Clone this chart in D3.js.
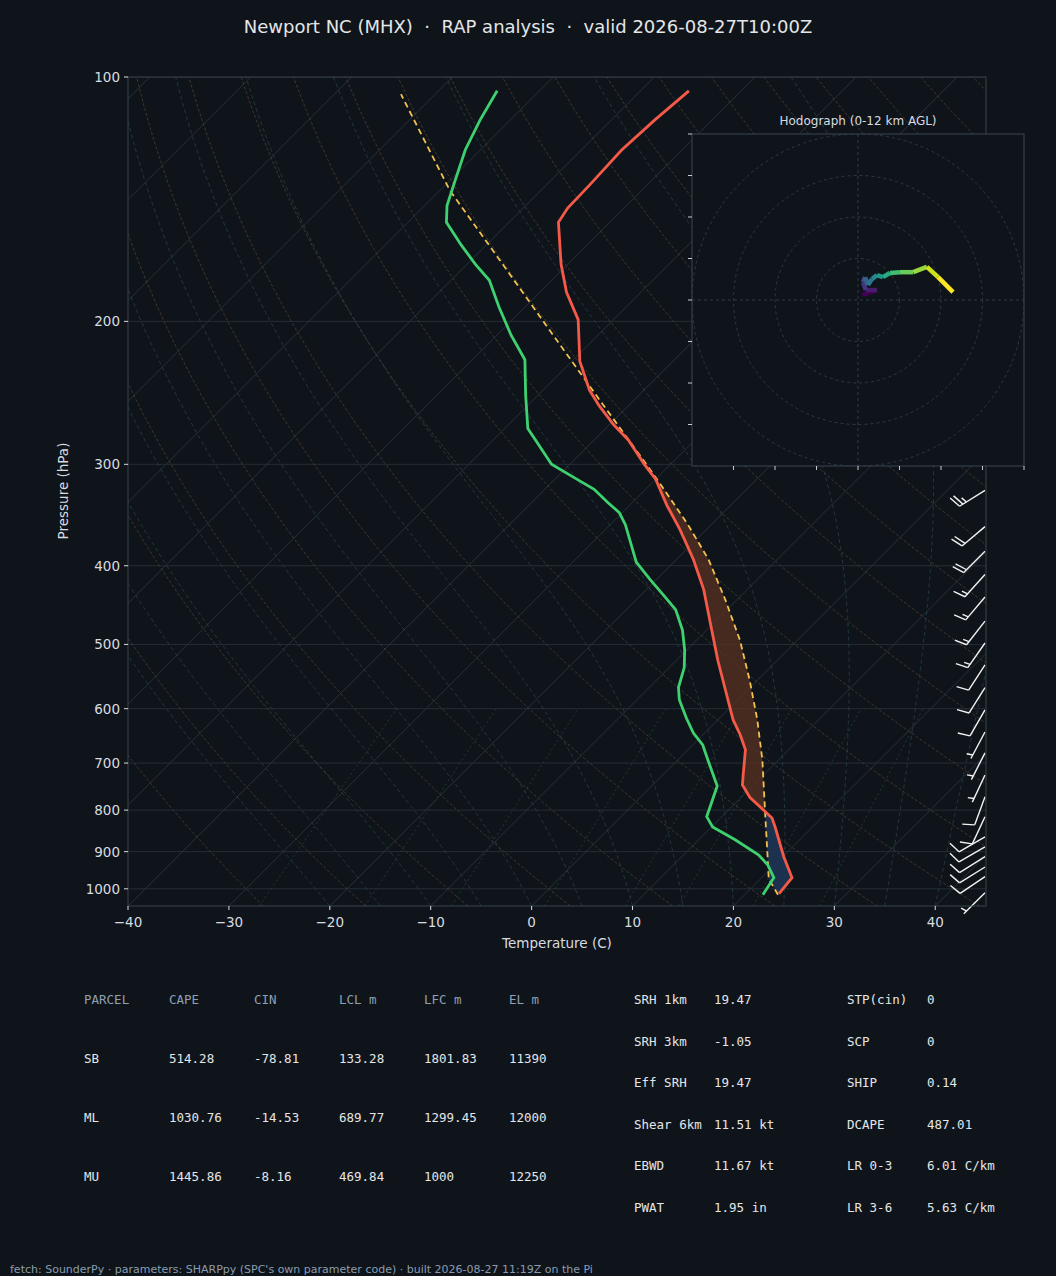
<!DOCTYPE html>
<html><head><meta charset="utf-8">
<script src="https://cdn.jsdelivr.net/npm/d3@7"></script>
<style>
  body { margin: 0; background: #0f141a; }
  text { font-family: "DejaVu Sans", sans-serif; }
  text.mono { font-family: "DejaVu Sans Mono", monospace; }
</style></head>
<body><div id="chart"></div>
<script>
  // sounding (hPa, degC)
  const tempP = [1014, 969, 913, 841, 818, 799, 772, 745, 720, 674, 646, 619, 569, 523, 480, 428, 393, 361, 337, 313, 300, 280, 268, 254, 243, 224, 199, 184, 170, 151, 145, 136, 123, 113, 104]
  const tempC = [23.3, 23.0, 20.1, 16.4, 15.1, 13.4, 10.9, 8.9, 7.8, 5.7, 3.7, 1.5, -2.2, -5.9, -9.5, -14.3, -18.3, -22.6, -26.3, -30.0, -32.6, -36.6, -39.6, -42.9, -45.4, -49.2, -53.5, -57.4, -60.7, -65.1, -65.6, -65.7, -66.0, -65.7, -65.2]
  const dewP = [1017, 969, 934, 908, 870, 839, 815, 747, 694, 665, 643, 616, 585, 565, 534, 508, 480, 453, 435, 416, 396, 356, 344, 334, 322, 312, 300, 280, 271, 246, 223, 208, 192, 178, 170, 161, 151, 144, 134, 123, 113, 104]
  const dewC = [21.8, 21.2, 19.3, 17.4, 13.6, 10.1, 8.5, 6.5, 3.0, 1.0, -1.1, -3.3, -5.8, -7.1, -8.5, -10.2, -12.4, -15.1, -17.7, -20.6, -23.7, -28.5, -30.3, -32.5, -35.1, -38.1, -41.8, -45.8, -47.7, -51.3, -54.8, -58.6, -62.6, -66.2, -69.2, -72.5, -76.2, -77.8, -79.5, -81.5, -83.0, -84.2]
  const parcelP = [1017, 972, 913, 806, 694, 619, 553, 494, 441, 393, 356, 323, 298, 250, 205, 168, 138, 105]
  const parcelC = [23.3, 20.8, 18.5, 13.9, 8.4, 3.9, -0.8, -5.7, -11.1, -16.8, -22.3, -28.0, -32.8, -43.4, -55.3, -67.2, -79.0, -93.4]

  // wind barbs (hPa, direction from, kt)
  const barbP = [323, 358, 384, 410, 437, 468, 498, 530, 565, 602, 641, 680, 724, 770, 815, 863, 888, 913, 940, 966, 1011]
  const barbDir = [238, 230, 225, 222, 220, 218, 215, 213, 212, 210, 208, 207, 205, 200, 205, 240, 240, 238, 238, 236, 225]
  const barbSpd = [25, 20, 20, 15, 15, 15, 15, 10, 10, 10, 5, 5, 5, 10, 10, 10, 10, 10, 10, 10, 5]

  // hodograph (kt)
  const hodoU = [1.0, 4.6, 1.9, 1.2, 1.7, 2.4, 3.4, 4.6, 6.0, 7.7, 10.1, 13.3, 16.6, 19.3, 22.9]
  const hodoV = [1.2, 2.4, 2.4, 4.3, 5.5, 3.6, 5.1, 6.0, 5.5, 6.5, 6.7, 6.7, 8.0, 5.5, 1.9]

  const pTicks = [100, 200, 300, 400, 500, 600, 700, 800, 900, 1000]
  const tTicks = [-40, -30, -20, -10, 0, 10, 20, 30, 40]

  const tableHead = ["PARCEL", "CAPE", "CIN", "LCL m", "LFC m", "EL m"]
  const tableRows = [
    ["SB", "514.28", "-78.81", "133.28", "1801.83", "11390"],
    ["ML", "1030.76", "-14.53", "689.77", "1299.45", "12000"],
    ["MU", "1445.86", "-8.16", "469.84", "1000", "12250"]]
  const paramsA = [["SRH 1km", "19.47"], ["SRH 3km", "-1.05"], ["Eff SRH", "19.47"], ["Shear 6km", "11.51 kt"], ["EBWD", "11.67 kt"], ["PWAT", "1.95 in"]]
  const paramsB = [["STP(cin)", "0"], ["SCP", "0"], ["SHIP", "0.14"], ["DCAPE", "487.01"], ["LR 0-3", "6.01 C/km"], ["LR 3-6", "5.63 C/km"]]

  const W = 1056, H = 1276
  const L = 128, R = 986, T = 77, B = 906
  const svg = d3.select("#chart").append("svg").attr("width", W).attr("height", H)
  svg.append("rect").attr("width", W).attr("height", H).attr("fill", "#0f141a")

  const y = d3.scaleLog().domain([1050, 100]).range([B, T])
  const x = d3.scaleLinear().domain([-40, 45.03]).range([L, R])
  const sx = (t, p) => x(t) + (B - y(p))

  svg.append("clipPath").attr("id", "plot").append("rect")
    .attr("x", L).attr("y", T).attr("width", R - L).attr("height", B - T)
  const plot = svg.append("g").attr("clip-path", "url(#plot)")

  const line = d3.line().x(d => sx(d[1], d[0])).y(d => y(d[0]))

  // pressure grid
  plot.selectAll(".hg").data(pTicks).join("line")
    .attr("x1", L).attr("x2", R).attr("y1", d => y(d)).attr("y2", d => y(d))
    .attr("stroke", "#252d36").attr("stroke-width", 1)
  // isotherms
  plot.selectAll(".iso").data(d3.range(-120, 50, 10)).join("path")
    .attr("d", t => line([[1050, t], [100, t]]))
    .attr("stroke", "#28313b").attr("fill", "none")

  const levels = d3.range(1050, 99, -10)
  // dry adiabats
  plot.selectAll(".dry").data(d3.range(-30, 221, 10)).join("path")
    .attr("d", th => line(levels.map(p => [p, (th + 273.15) * Math.pow(p / 1000, 0.2857) - 273.15])))
    .attr("stroke", "#4d4030").attr("stroke-dasharray", "3,2").attr("fill", "none").attr("stroke-width", 0.8)
  // moist adiabats
  function moist(t0) {
    const out = []
    let t = t0 + 273.15
    for (let p = 1050; p >= 100; p -= 5) {
      out.push([p, t - 273.15])
      const es = 6.112 * Math.exp(17.67 * (t - 273.15) / (t - 29.65))
      const rs = 0.622 * es / (p - es)
      const dTdp = (287 * t + 2.5e6 * rs) / (1005 + 2.5e6 * 2.5e6 * rs * 0.622 / (287 * t * t)) / p
      t -= dTdp * 5
    }
    return out
  }
  plot.selectAll(".moist").data(d3.range(-20, 41, 5)).join("path")
    .attr("d", t => line(moist(t)))
    .attr("stroke", "#26404a").attr("stroke-dasharray", "4,3").attr("fill", "none").attr("stroke-width", 0.8)
  // mixing ratio lines
  const tdFromW = (w, p) => { const e = w * p / (622 + w); const l = Math.log(e / 6.112); return 243.5 * l / (17.67 - l) }
  plot.selectAll(".mix").data([0.4, 1, 2, 4, 7, 10, 16, 24]).join("path")
    .attr("d", w => line([1050, 600].map(p => [p, tdFromW(w, p)])))
    .attr("stroke", "#26443a").attr("stroke-dasharray", "2,3").attr("fill", "none").attr("stroke-width", 0.8)

  // CAPE / CIN shading
  const logI = (ps, vs, p) => {
    for (let i = 0; i < ps.length - 1; i++) {
      if (p <= ps[i] && p >= ps[i + 1]) {
        const f = Math.log(ps[i] / p) / Math.log(ps[i] / ps[i + 1])
        return vs[i] + f * (vs[i + 1] - vs[i])
      }
    }
    return null
  }
  const fillLevels = d3.range(1013, 104, -2).map(p => ({ p, t: logI(tempP, tempC, p), pc: logI(parcelP, parcelC, p) }))
    .filter(d => d.t != null && d.pc != null)
  plot.append("path").datum(fillLevels.filter(d => d.p > 292))
    .attr("d", d3.area().y(d => y(d.p)).x0(d => sx(d.t, d.p)).x1(d => sx(Math.max(d.t, d.pc), d.p)))
    .attr("fill", "#5a3222").attr("opacity", 0.75)
  plot.append("path").datum(fillLevels.filter(d => d.p > 700))
    .attr("d", d3.area().y(d => y(d.p)).x0(d => sx(d.t, d.p)).x1(d => sx(Math.min(d.t, d.pc), d.p)))
    .attr("fill", "#1e3658").attr("opacity", 0.85)

  // profiles
  plot.append("path").datum(d3.zip(parcelP, parcelC)).attr("d", line)
    .attr("stroke", "#f2c14e").attr("stroke-width", 1.8).attr("stroke-dasharray", "6,4").attr("fill", "none")
  plot.append("path").datum(d3.zip(dewP, dewC)).attr("d", line)
    .attr("stroke", "#3dd26f").attr("stroke-width", 2.8).attr("fill", "none")
  plot.append("path").datum(d3.zip(tempP, tempC)).attr("d", line)
    .attr("stroke", "#f55a48").attr("stroke-width", 2.8).attr("fill", "none")

  // wind barbs
  const barbs = svg.append("g").attr("stroke", "#f2f2f2").attr("stroke-width", 1.4).attr("fill", "none")
  barbP.forEach((p, i) => {
    const a = barbDir[i] * Math.PI / 180
    const dx = Math.sin(a), dy = -Math.cos(a)
    const bx = 985, by = y(p), len = 30
    const tx = bx + dx * len, ty = by + dy * len
    barbs.append("line").attr("x1", bx).attr("y1", by).attr("x2", tx).attr("y2", ty)
    const px = -dy + 0.3 * dx, py = dx + 0.3 * dy
    let s = barbSpd[i], k = 0
    const full = Math.floor(s / 10), half = (s % 10) >= 5
    if (full === 0 && half) k = 1
    for (let j = 0; j < full + (half ? 1 : 0); j++, k++) {
      const ox = tx - dx * k * 4, oy = ty - dy * k * 4
      const l = j < full ? 12 : 6
      barbs.append("line").attr("x1", ox).attr("y1", oy).attr("x2", ox + px * l).attr("y2", oy + py * l)
    }
  })

  // plot frame
  svg.append("rect").attr("x", L).attr("y", T).attr("width", R - L).attr("height", B - T)
    .attr("fill", "none").attr("stroke", "#39424d")

  // axes
  const ax = svg.append("g").attr("font-size", 13.5).attr("fill", "#d8dce0")
  ax.selectAll(".xt").data(tTicks).join("line")
    .attr("x1", d => x(d)).attr("x2", d => x(d)).attr("y1", B).attr("y2", B + 4).attr("stroke", "#d8dce0")
  ax.selectAll(".xl").data(tTicks).join("text")
    .attr("x", d => x(d)).attr("y", B + 21).attr("text-anchor", "middle")
    .text(d => d < 0 ? "\u2212" + Math.abs(d) : d)
  ax.selectAll(".yt").data(pTicks).join("line")
    .attr("x1", L - 4).attr("x2", L).attr("y1", d => y(d)).attr("y2", d => y(d)).attr("stroke", "#d8dce0")
  ax.selectAll(".yl").data(pTicks).join("text")
    .attr("x", L - 8).attr("y", d => y(d) + 5).attr("text-anchor", "end").text(d => d)
  ax.append("text").attr("x", 557).attr("y", 948).attr("text-anchor", "middle").text("Temperature (C)")
  ax.append("text").attr("transform", "translate(68,491) rotate(-90)").attr("text-anchor", "middle").text("Pressure (hPa)")

  svg.append("text").attr("x", 528).attr("y", 33).attr("text-anchor", "middle")
    .attr("font-size", 18).attr("fill", "#e4e6e8").style("white-space", "pre")
    .text("Newport NC (MHX)  \u00b7  RAP analysis  \u00b7  valid 2026-08-27T10:00Z")

  // hodograph inset
  const hx0 = 692, hy0 = 134, hs = 332, hc = hx0 + hs / 2
  const hk = d3.scaleLinear().domain([-40, 40]).range([hx0, hx0 + hs])
  const hv = d3.scaleLinear().domain([-40, 40]).range([hy0 + hs, hy0])
  const hod = svg.append("g")
  hod.append("rect").attr("x", hx0).attr("y", hy0).attr("width", hs).attr("height", hs).attr("fill", "#0f141a")
  hod.append("clipPath").attr("id", "hclip").append("rect").attr("x", hx0).attr("y", hy0).attr("width", hs).attr("height", hs)
  const hg = hod.append("g").attr("clip-path", "url(#hclip)")
  hg.selectAll("circle").data([10, 20, 30, 40]).join("circle")
    .attr("cx", hk(0)).attr("cy", hv(0)).attr("r", d => hk(d) - hk(0))
    .attr("fill", "none").attr("stroke", "#2f3843").attr("stroke-dasharray", "3,3")
  hg.append("line").attr("x1", hx0).attr("x2", hx0 + hs).attr("y1", hv(0)).attr("y2", hv(0)).attr("stroke", "#2f3843").attr("stroke-dasharray", "3,3")
  hg.append("line").attr("y1", hy0).attr("y2", hy0 + hs).attr("x1", hk(0)).attr("x2", hk(0)).attr("stroke", "#2f3843").attr("stroke-dasharray", "3,3")
  const col = d3.scaleSequential(d3.interpolateViridis).domain([0, hodoU.length - 2])
  for (let i = 0; i < hodoU.length - 1; i++) {
    hg.append("line").attr("x1", hk(hodoU[i])).attr("y1", hv(hodoV[i]))
      .attr("x2", hk(hodoU[i + 1])).attr("y2", hv(hodoV[i + 1]))
      .attr("stroke", col(i)).attr("stroke-width", 4.5).attr("stroke-linecap", "butt")
  }
  hod.append("rect").attr("x", hx0).attr("y", hy0).attr("width", hs).attr("height", hs)
    .attr("fill", "none").attr("stroke", "#3a4450")
  const hticks = d3.range(-30, 41, 10)
  hod.selectAll(".hyt").data(hticks).join("line").attr("x1", hx0 - 4).attr("x2", hx0)
    .attr("y1", d => hv(d)).attr("y2", d => hv(d)).attr("stroke", "#c8ccd0")
  hod.selectAll(".hxt").data(hticks).join("line").attr("y1", hy0 + hs).attr("y2", hy0 + hs + 4)
    .attr("x1", d => hk(d)).attr("x2", d => hk(d)).attr("stroke", "#c8ccd0")
  hod.append("text").attr("x", hc).attr("y", 125).attr("text-anchor", "middle").attr("font-size", 12)
    .attr("fill", "#d8dce0").text("Hodograph (0-12 km AGL)")

  // parameter table
  const tb = svg.append("g").attr("font-size", 12.5)
  const cell = (xx, yy, txt, fill) => tb.append("text").attr("class", "mono")
    .attr("x", xx).attr("y", yy).attr("fill", fill).text(txt)
  const colX = [84, 169, 254, 339, 424, 509]
  tableHead.forEach((h, j) => cell(colX[j], 1004, h, "#8fa0b4"))
  tableRows.forEach((r, i) => r.forEach((v, j) => cell(colX[j], 1063 + i * 59, v, "#e4e6e8")))
  paramsA.forEach((r, i) => {
    cell(634, 1004 + i * 41.5, r[0], "#e4e6e8")
    cell(714, 1004 + i * 41.5, r[1], "#e4e6e8")
  })
  paramsB.forEach((r, i) => {
    cell(847, 1004 + i * 41.5, r[0], "#e4e6e8")
    cell(927, 1004 + i * 41.5, r[1], "#e4e6e8")
  })
  svg.append("text").attr("x", 10).attr("y", 1273).attr("font-size", 11).attr("fill", "#8a9cb0")
    .text("fetch: SounderPy \u00b7 parameters: SHARPpy (SPC's own parameter code) \u00b7 built 2026-08-27 11:19Z on the Pi")
</script></body></html>
